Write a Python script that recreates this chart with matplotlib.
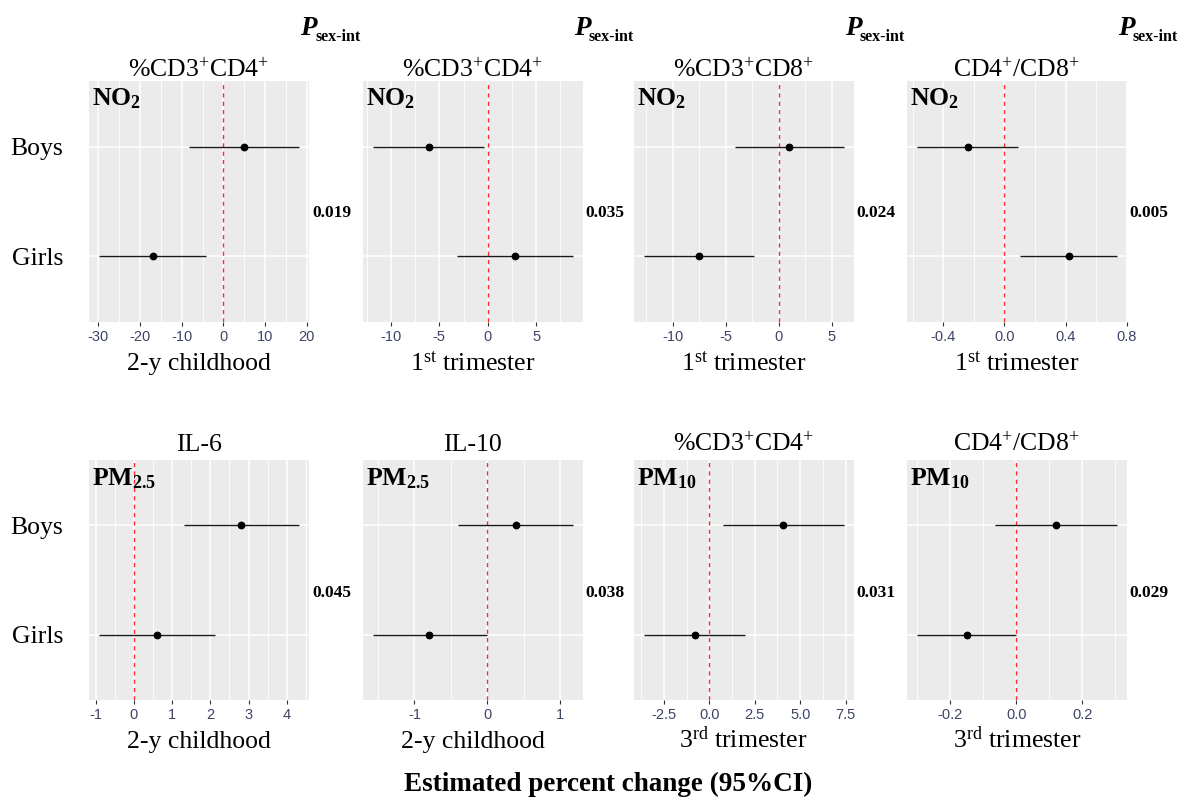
import matplotlib
matplotlib.use("Agg")
import matplotlib.pyplot as plt
from matplotlib.ticker import MultipleLocator, FormatStrFormatter
import numpy as np

plt.rcParams['font.family'] = 'Liberation Serif'
plt.rcParams['mathtext.fontset'] = 'custom'
plt.rcParams['mathtext.rm'] = 'Liberation Serif'
plt.rcParams['mathtext.it'] = 'Liberation Serif:italic'
plt.rcParams['mathtext.bf'] = 'Liberation Serif:bold'
plt.rcParams['axes.unicode_minus'] = False

# data, one entry per panel (top row then bottom row)
titles = ['%CD3$^{+}$CD4$^{+}$', '%CD3$^{+}$CD4$^{+}$', '%CD3$^{+}$CD8$^{+}$', 'CD4$^{+}$/CD8$^{+}$',
          'IL-6', 'IL-10', '%CD3$^{+}$CD4$^{+}$', 'CD4$^{+}$/CD8$^{+}$']
pollutants = ['NO$_{\\mathbf{2}}$'] * 4 + ['PM$_{\\mathbf{2.5}}$'] * 2 + ['PM$_{\\mathbf{10}}$'] * 2
windows = ['2-y childhood', '1$^{\\mathrm{st}}$ trimester', '1$^{\\mathrm{st}}$ trimester',
           '1$^{\\mathrm{st}}$ trimester', '2-y childhood', '2-y childhood',
           '3$^{\\mathrm{rd}}$ trimester', '3$^{\\mathrm{rd}}$ trimester']
groups = ['Boys', 'Girls']

boys_est = [5.0, -6.1, 1.0, -0.24, 2.81, 0.39, 4.05, 0.12]
boys_lo = [-8.15, -11.9, -4.1, -0.575, 1.31, -0.40, 0.74, -0.065]
boys_hi = [18.1, -0.4, 6.13, 0.09, 4.32, 1.175, 7.39, 0.305]
girls_est = [-16.9, 2.8, -7.5, 0.42, 0.61, -0.80, -0.8, -0.15]
girls_lo = [-29.8, -3.2, -12.76, 0.10, -0.91, -1.575, -3.61, -0.302]
girls_hi = [-4.2, 8.78, -2.3, 0.735, 2.12, 0.0, 1.94, 0.0]
p_values = ['0.019', '0.035', '0.024', '0.005', '0.045', '0.038', '0.031', '0.029']

tick_steps = [10, 5, 5, 0.4, 1, 1, 2.5, 0.2]
tick_decimals = [0, 0, 0, 1, 0, 0, 1, 1]

W, H = 1182, 797
fig = plt.figure(figsize=(W / 100, H / 100), dpi=100)

lefts = [89, 362.6, 633.6, 906.7]
pw = 220
rows = [(81, 322), (460, 700)]  # top, bottom in pixels

y = np.arange(len(groups))

for i in range(8):
    r, c = divmod(i, 4)
    top, bot = rows[r]
    left = lefts[c]
    ax = fig.add_axes([left / W, 1 - bot / H, pw / W, (bot - top) / H])
    ax.set_facecolor('#EBEBEB')
    for s in ax.spines.values():
        s.set_visible(False)

    est = [boys_est[i], girls_est[i]]
    lo = [boys_lo[i], girls_lo[i]]
    hi = [boys_hi[i], girls_hi[i]]
    ax.hlines(y, lo, hi, color='#1a1a1a', lw=1.0, zorder=3)
    ax.plot(est, y, 'o', color='black', ms=4.6, zorder=4)
    ax.axvline(0, color='#FF2A2A', ls=(0, (3, 3)), lw=1.0, zorder=2)

    ax.margins(x=0.05)
    ax.set_ylim(1.6, -0.6)
    ax.xaxis.set_major_locator(MultipleLocator(tick_steps[i]))
    ax.xaxis.set_minor_locator(MultipleLocator(tick_steps[i] / 2))
    ax.xaxis.set_major_formatter(FormatStrFormatter('%%.%df' % tick_decimals[i]))
    ax.set_yticks(y)
    ax.grid(which='major', color='white', lw=1.1)
    ax.grid(which='minor', axis='x', color='white', lw=0.6)
    ax.set_axisbelow(True)
    ax.tick_params(axis='x', which='major', length=3, width=0.8, color='#333333',
                   labelsize=10.5, labelcolor='#3D4466', pad=3)
    ax.tick_params(axis='x', which='minor', length=0)
    for lab in ax.get_xticklabels():
        lab.set_family('Liberation Sans')
    if c == 0:
        ax.set_yticklabels(groups, fontsize=18.5)
        ax.tick_params(axis='y', length=0, pad=18.5, labelcolor='black')
    else:
        ax.tick_params(axis='y', length=0, labelleft=False)

    cx = (left + pw / 2) / W
    right = left + pw
    title_base = [77, 451][r]
    fig.text(cx, 1 - title_base / H, titles[i], ha='center', va='baseline', fontsize=18.5)
    pol_base = [105, 485][r]
    fig.text((left + 3) / W, 1 - pol_base / H, pollutants[i], ha='left', va='baseline',
             fontsize=18.5, fontweight='bold')
    xl_base = [370, 748][r]
    fig.text(cx, 1 - xl_base / H, windows[i], ha='center', va='baseline', fontsize=18.5)
    p_base = [217, 597][r]
    fig.text((right + 3) / W, 1 - p_base / H, p_values[i], ha='left', va='baseline',
             fontsize=12.5, fontweight='bold')

    if r == 0:
        fig.text((right - 9) / W, 1 - 35 / H, 'P', ha='left', va='baseline',
                 fontsize=19.5, fontweight='bold', fontstyle='italic')
        fig.text((right + 6) / W, 1 - 41 / H, 'sex-int', ha='left', va='baseline',
                 fontsize=11.5, fontweight='bold')

fig.text(608 / W, 1 - 791 / H, 'Estimated percent change (95%CI)', ha='center',
         va='baseline', fontsize=19.5, fontweight='bold')

fig.savefig('out.png', dpi=100)
